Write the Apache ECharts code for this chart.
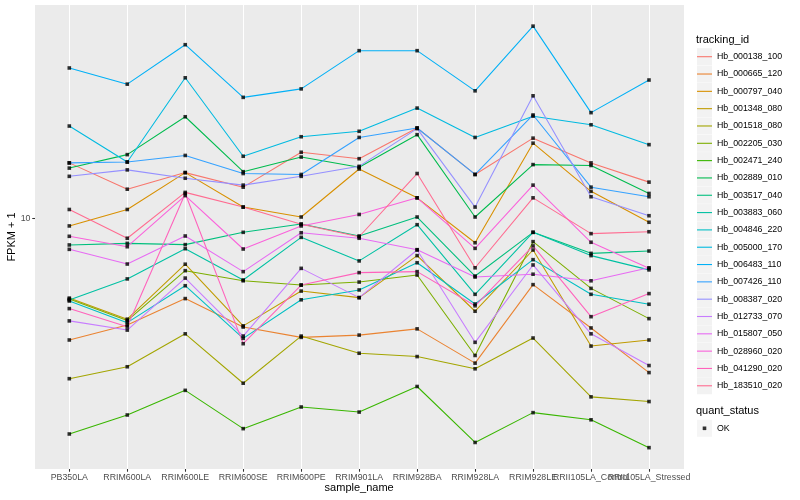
<!DOCTYPE html>
<html>
<head>
<meta charset="utf-8">
<script src="https://cdn.jsdelivr.net/npm/echarts@6/dist/echarts.min.js"></script>
<style>html,body{margin:0;padding:0;background:#fff;}#chart{width:800px;height:500px;}</style>
</head>
<body>
<div id="chart"></div>
<script>
// ---- data ----
const categories = ['PB350LA','RRIM600LA','RRIM600LE','RRIM600SE','RRIM600PE','RRIM901LA','RRIM928BA','RRIM928LA','RRIM928LE','RRII105LA_Control','RRII105LA_Stressed'];
const trackingIds = ['Hb_000138_100','Hb_000665_120','Hb_000797_040','Hb_001348_080','Hb_001518_080','Hb_002205_030','Hb_002471_240','Hb_002889_010','Hb_003517_040','Hb_003883_060','Hb_004846_220','Hb_005000_170','Hb_006483_110','Hb_007426_110','Hb_008387_020','Hb_012733_070','Hb_015807_050','Hb_028960_020','Hb_041290_020','Hb_183510_020'];
const quantStatus = ['OK'];
const yTickValues = [10];

const hb_000138_100 = [15.3, 12.5, 14.2, 12.7, 16.6, 15.8, 20.0, 14.0, 18.5, 15.3, 13.2];
const hb_000665_120 = [3.93, 4.41, 5.40, 4.34, 4.01, 4.08, 4.28, 3.29, 6.01, 4.31, 3.06];
const hb_000797_040 = [9.43, 10.7, 14.2, 10.9, 10.1, 14.6, 11.7, 8.29, 17.8, 12.3, 9.70];
const hb_001348_080 = [5.42, 4.61, 7.03, 4.38, 5.72, 5.44, 7.51, 4.90, 7.84, 3.75, 3.93];
const hb_001518_080 = [2.92, 3.20, 4.12, 2.82, 4.05, 3.55, 3.46, 3.15, 3.99, 2.54, 2.45];
const hb_002205_030 = [5.38, 4.56, 6.69, 6.19, 5.99, 6.13, 6.47, 3.49, 8.36, 5.84, 4.63];
const hb_002471_240 = [1.91, 2.21, 2.67, 1.99, 2.35, 2.26, 2.75, 1.79, 2.25, 2.13, 1.72];
const hb_002889_010 = [14.7, 16.3, 21.8, 14.3, 16.0, 14.8, 19.0, 10.1, 15.1, 15.0, 12.1];
const hb_003517_040 = [8.15, 8.25, 8.17, 8.98, 9.57, 8.73, 10.1, 6.42, 8.98, 7.64, 7.78];
const hb_003883_060 = [5.34, 6.28, 7.92, 6.23, 8.64, 7.21, 9.52, 5.58, 8.98, 7.51, 6.73];
const hb_004846_220 = [5.30, 4.49, 5.96, 3.98, 5.35, 5.77, 7.11, 5.18, 7.28, 5.58, 5.17];
const hb_005000_170 = [20.3, 15.4, 29.4, 16.1, 18.7, 19.5, 23.3, 18.6, 21.9, 20.5, 17.6];
const hb_006483_110 = [31.7, 28.0, 37.9, 25.3, 27.0, 36.2, 36.2, 26.6, 43.7, 22.5, 28.9];
const hb_007426_110 = [15.3, 15.4, 16.2, 14.1, 14.0, 18.6, 20.0, 14.0, 22.1, 12.7, 11.8];
const hb_008387_020 = [13.8, 14.5, 13.6, 12.9, 13.8, 14.9, 19.9, 10.9, 25.6, 11.8, 10.2];
const hb_012733_070 = [4.55, 4.24, 6.32, 4.05, 6.81, 5.44, 7.84, 3.86, 6.99, 4.12, 3.23];
const hb_015807_050 = [7.88, 7.04, 8.73, 6.64, 8.95, 8.58, 7.86, 6.37, 6.51, 6.19, 6.84];
const hb_028960_020 = [8.71, 8.04, 11.9, 7.90, 9.43, 10.3, 11.7, 7.94, 12.9, 8.32, 6.81];
const hb_041290_020 = [5.00, 4.35, 12.1, 3.82, 5.99, 6.59, 6.64, 5.11, 8.09, 4.70, 5.61];
const hb_183510_020 = [10.7, 8.58, 12.2, 10.9, 9.55, 8.68, 14.1, 6.84, 11.7, 8.89, 9.02];

const seriesValues = [hb_000138_100, hb_000665_120, hb_000797_040, hb_001348_080, hb_001518_080,
  hb_002205_030, hb_002471_240, hb_002889_010, hb_003517_040, hb_003883_060, hb_004846_220,
  hb_005000_170, hb_006483_110, hb_007426_110, hb_008387_020, hb_012733_070, hb_015807_050,
  hb_028960_020, hb_041290_020, hb_183510_020];

// ---- style ----
const palette = ['#F8766D','#EA8331','#D89000','#C09B00','#A3A500','#7CAE00','#39B600','#00BB4E','#00BF7D','#00C1A3','#00BFC4','#00BAE0','#00B0F6','#35A2FF','#9590FF','#C77CFF','#E76BF3','#FA62DB','#FF62BC','#FF6C91'];
const FONT = 'Liberation Sans, Arial, sans-serif';
const Y_MIN = 1.46, Y_MAX = 51.4;

const lineSeries = trackingIds.map((name, i) => ({
  type: 'line', name: name, xAxisIndex: 1, yAxisIndex: 1,
  data: seriesValues[i], showSymbol: false, silent: true,
  lineStyle: { color: palette[i], width: 1.07 },
  itemStyle: { color: palette[i] },
  emphasis: { disabled: true }
}));
const pointData = [];
seriesValues.forEach(vals => vals.forEach((v, j) => pointData.push([categories[j], v])));
const pointSeries = {
  type: 'scatter', name: quantStatus[0], xAxisIndex: 1, yAxisIndex: 1,
  data: pointData, symbol: 'rect', symbolSize: 3.6, silent: true,
  itemStyle: { color: '#000' }, z: 5
};

const legendBase = {
  orient: 'vertical', left: 697, itemWidth: 15, itemHeight: 17, itemGap: 0.32,
  selectedMode: false, padding: 0,
  textStyle: { fontSize: 8.8, color: '#000', fontFamily: FONT }
};
const lineIcon = 'path://M0,0L0,0M0,7.95L15,7.95L15,9.05L0,9.05ZM15,17L15,17';
const dotIcon = 'path://M0,0L0,0M5.7,6.7L9.3,6.7L9.3,10.3L5.7,10.3ZM15,17L15,17';

const option = {
  animation: false,
  backgroundColor: '#ffffff',
  textStyle: { fontFamily: FONT },
  grid: [
    { left: 35, right: 116, top: 5, bottom: 31, show: true, backgroundColor: '#EBEBEB', borderWidth: 0, containLabel: false, outerBoundsMode: 'none' },
    { left: 69.3, right: 151, top: 5, bottom: 31, containLabel: false, outerBoundsMode: 'none' }
  ],
  xAxis: [
    { gridIndex: 0, type: 'value', min: 0, max: 1, show: false },
    { gridIndex: 1, type: 'category', data: categories, boundaryGap: false,
      axisLine: { show: false },
      axisTick: { show: true, length: 2.75, lineStyle: { color: '#333333', width: 1.07 } },
      axisLabel: { interval: 0, hideOverlap: false, fontSize: 8.8, color: '#4D4D4D', margin: 4.5, fontFamily: FONT },
      splitLine: { show: true, lineStyle: { color: '#ffffff', width: 1.07 } },
      name: 'sample_name', nameLocation: 'middle', nameGap: 13.5, nameMoveOverlap: false,
      nameTextStyle: { fontSize: 11, color: '#000', fontFamily: FONT } }
  ],
  yAxis: [
    { gridIndex: 0, type: 'log', logBase: 10, min: Y_MIN, max: Y_MAX,
      axisLine: { show: false },
      axisTick: { show: true, length: 2.75, lineStyle: { color: '#333333', width: 1.07 }, customValues: yTickValues },
      axisLabel: { fontSize: 8.8, color: '#4D4D4D', margin: 4.5, fontFamily: FONT, customValues: yTickValues, showMinLabel: false, showMaxLabel: false },
      splitLine: { show: true, showMinLine: false, showMaxLine: false, lineStyle: { color: '#ffffff', width: 1.07 } },
      name: 'FPKM + 1', nameLocation: 'middle', nameGap: 17.5, nameMoveOverlap: false,
      nameTextStyle: { fontSize: 11, color: '#000', fontFamily: FONT } },
    { gridIndex: 1, type: 'log', logBase: 10, min: Y_MIN, max: Y_MAX, show: false }
  ],
  legend: [
    Object.assign({}, legendBase, { top: 48.2, icon: 'rect', itemStyle: { color: '#F2F2F2' }, data: trackingIds }),
    Object.assign({}, legendBase, { top: 48.2, icon: lineIcon,
      data: trackingIds.map((n, i) => ({ name: n, itemStyle: { color: palette[i] } })),
      textStyle: { fontSize: 8.8, color: 'rgba(0,0,0,0)', fontFamily: FONT } }),
    Object.assign({}, legendBase, { top: 419.8, icon: 'rect', itemStyle: { color: '#F2F2F2' }, data: quantStatus }),
    Object.assign({}, legendBase, { top: 419.8, icon: dotIcon, itemStyle: { color: '#000' }, data: quantStatus,
      textStyle: { fontSize: 8.8, color: 'rgba(0,0,0,0)', fontFamily: FONT } })
  ],
  graphic: [
    { type: 'text', left: 696, top: 34.5, silent: true, style: { text: 'tracking_id', fontSize: 11, fontFamily: FONT, fill: '#000' } },
    { type: 'text', left: 696, top: 405.5, silent: true, style: { text: 'quant_status', fontSize: 11, fontFamily: FONT, fill: '#000' } }
  ],
  series: lineSeries.concat([pointSeries])
};

const chart = echarts.init(document.getElementById('chart'), null, { renderer: 'canvas' });
chart.setOption(option);
</script>
</body>
</html>
